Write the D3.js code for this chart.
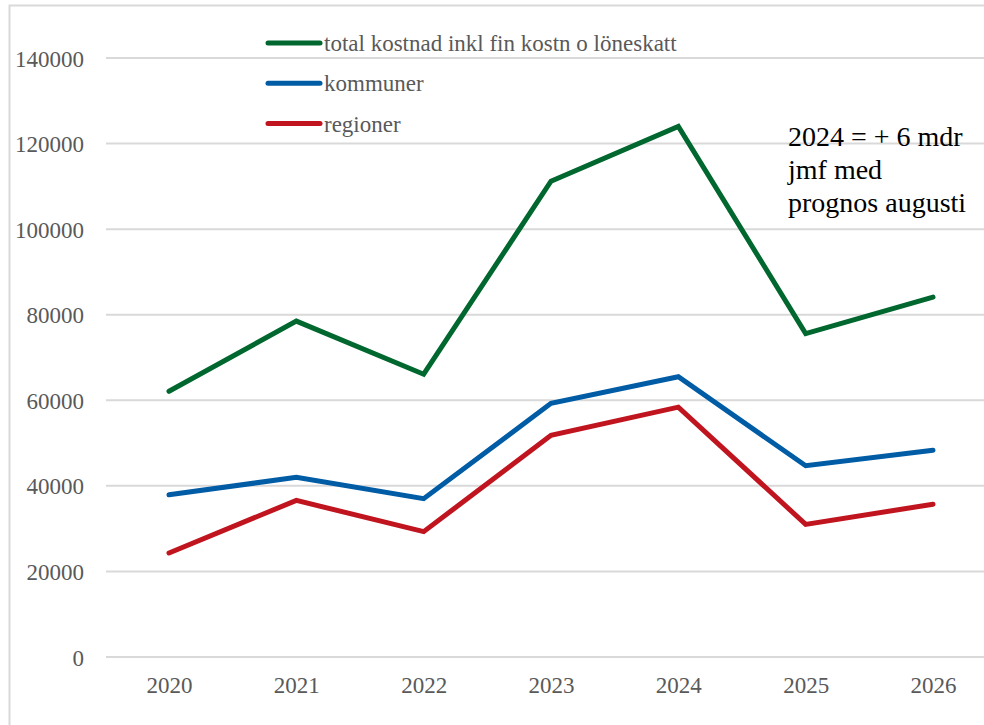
<!DOCTYPE html>
<html>
<head>
<meta charset="utf-8">
<script src="https://cdn.jsdelivr.net/npm/d3@7/dist/d3.min.js"></script>
<style>
  body { margin: 0; background: #fff; }
</style>
</head>
<body>
<script>
// data
var years = ['2020', '2021', '2022', '2023', '2024', '2025', '2026']
var total = [62100, 78500, 66100, 111200, 124000, 75600, 84100]
var kommuner = [37900, 42000, 37000, 59300, 65500, 44700, 48300]
var regioner = [24300, 36600, 29300, 51800, 58400, 31000, 35700]
var y_ticks = [0, 20000, 40000, 60000, 80000, 100000, 120000, 140000]
var series_names = ['total kostnad inkl fin kostn o löneskatt', 'kommuner', 'regioner']
var note_lines = ['2024 = + 6 mdr', 'jmf med', 'prognos augusti']

var GREEN = '#00672f'
var BLUE = '#005ca5'
var RED = '#c0141f'
var GRID = '#d9d9d9'
var LABEL = '#595959'
var FONT = 'Liberation Serif'

var w = 984, h = 725
var svg = d3.select('body').append('svg').attr('width', w).attr('height', h)
  .style('display', 'block')

// outer chart border (runs off right and bottom edge)
svg.append('rect')
  .attr('x', 9.5).attr('y', 5.5)
  .attr('width', 1000).attr('height', 800)
  .attr('fill', 'none').attr('stroke', GRID).attr('stroke-width', 2)

var x = d3.scalePoint().domain(years).range([169, 933]).padding(0)
var y = d3.scaleLinear().domain([0, 140000]).range([657, 58])

// gridlines
svg.selectAll('line.grid')
  .data(y_ticks)
  .enter()
  .append('line')
  .attr('class', 'grid')
  .attr('x1', 106).attr('x2', 997)
  .attr('y1', function(d){ return y(d) })
  .attr('y2', function(d){ return y(d) })
  .attr('stroke', GRID).attr('stroke-width', 2)

// y axis labels
var yAxis = d3.axisLeft(y).tickValues(y_ticks).tickSize(0).tickPadding(0).tickFormat(d3.format('d'))
var gy = svg.append('g').attr('transform', 'translate(84,0)').call(yAxis)
gy.select('.domain').remove()
gy.attr('font-family', FONT).attr('font-size', 23)
gy.selectAll('text').attr('fill', LABEL).attr('dy', '0.35em')

// x axis labels
var xAxis = d3.axisBottom(x).tickSize(0).tickPadding(0)
var gx = svg.append('g').attr('transform', 'translate(0,675)').call(xAxis)
gx.select('.domain').remove()
gx.attr('font-family', FONT).attr('font-size', 23)
gx.selectAll('text').attr('fill', LABEL).attr('dy', '0.8em')

var line = d3.line()
  .x(function(d, i){ return x(years[i]) })
  .y(function(d){ return y(d) })

var series = [
  { name: series_names[0], values: total, color: GREEN },
  { name: series_names[1], values: kommuner, color: BLUE },
  { name: series_names[2], values: regioner, color: RED }
]

svg.selectAll('path.series')
  .data(series)
  .enter()
  .append('path')
  .attr('class', 'series')
  .attr('d', function(d){ return line(d.values) })
  .attr('fill', 'none')
  .attr('stroke', function(d){ return d.color })
  .attr('stroke-width', 5)
  .attr('stroke-linecap', 'round')
  .attr('stroke-linejoin', 'miter')

// legend
var legend = svg.selectAll('g.legend')
  .data(series)
  .enter()
  .append('g')
  .attr('class', 'legend')
  .attr('transform', function(d, i){ return 'translate(0,' + (43 + i * 40.3) + ')' })

legend.append('line')
  .attr('x1', 268).attr('x2', 320)
  .attr('stroke', function(d){ return d.color })
  .attr('stroke-width', 5)
  .attr('stroke-linecap', 'round')

legend.append('text')
  .attr('x', 324).attr('y', 8)
  .attr('font-family', FONT)
  .attr('fill', LABEL).attr('font-size', 23)
  .text(function(d){ return d.name })

// annotation
svg.append('text')
  .attr('x', 788).attr('y', 146)
  .attr('font-family', FONT)
  .attr('font-size', 28).attr('fill', '#000')
  .selectAll('tspan')
  .data(note_lines)
  .enter()
  .append('tspan')
  .attr('x', 788)
  .attr('dy', function(d, i){ return i === 0 ? 0 : 33 })
  .text(function(d){ return d })
</script>
</body>
</html>
